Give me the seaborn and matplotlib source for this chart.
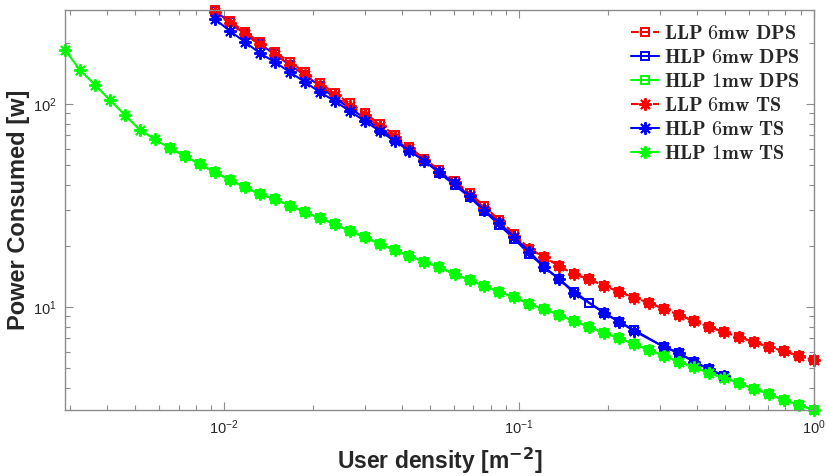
import numpy as np
import pandas as pd
import matplotlib
matplotlib.use("Agg")
import matplotlib.pyplot as plt
import seaborn as sns
from matplotlib.ticker import LogLocator, NullFormatter

# ---------------- data ----------------
density = [0.002884, 0.003243, 0.003648, 0.004093, 0.004603, 0.005176, 0.005821,
           0.006546, 0.007345, 0.008260, 0.009290, 0.01045, 0.01175, 0.01318,
           0.01483, 0.01667, 0.01875, 0.02109, 0.02366, 0.02661, 0.02992, 0.03365,
           0.03784, 0.04246, 0.04775, 0.05370, 0.06039, 0.06792, 0.07621, 0.08570,
           0.09638, 0.1084, 0.1219, 0.1368, 0.1538, 0.1730, 0.1945, 0.2188, 0.2455,
           0.2761, 0.3105, 0.3491, 0.3926, 0.4406, 0.4955, 0.5572, 0.6266, 0.7047,
           0.7907, 0.8892, 1.0]

llp6_dps = [290.4, 256.3, 226.3, 202.1, 180.4, 161.0, 143.8, 126.9, 113.3, 101.1,
            90.3, 79.7, 70.4, 61.4, 53.6, 47.3, 41.8, 36.4, 31.4, 26.8,
            22.9, 19.3, 17.6, 15.9, 14.5, 13.7, 12.7, 11.9, 11.1, 10.5,
            9.77, 9.13, 8.53, 7.97, 7.53, 7.11, 6.72, 6.35, 6.07, 5.74, 5.48]
hlp6_dps = [287.1, 253.4, 221.2, 197.5, 176.3, 155.6, 139.0, 122.7, 107.1, 95.6,
            85.3, 75.3, 67.2, 59.3, 52.4, 45.7, 39.9, 34.8, 29.7, 25.3,
            21.6, 18.2, 15.7, 13.7, 11.9, 10.5, 9.34, 8.44, 7.70, np.nan,
            6.35, 5.93, 5.36, 4.95, 4.57]
hlp1_dps = [60.5, 55.5, 50.5, 46.2, 42.2, 39.0, 36.0, 34.1, 31.6, 29.4, 27.4, 25.6,
            23.7, 22.1, 20.5, 19.1, 17.8, 16.7, 15.7, 14.5, 13.6, 12.7, 11.85, 11.2,
            10.3, 9.77, 9.13, 8.53, 7.97, 7.45, 7.03, 6.57, 6.14, 5.74, 5.36, 5.06,
            4.73, 4.47, 4.22, 3.95, 3.73, 3.48, 3.29, 3.11]
llp6_ts = [282.3, 249.2, 220.0, 196.4, 175.3, 156.5, 139.7, 123.3, 110.2, 98.3,
           87.8, 77.5, 68.4, 60.4, 52.7, 46.5, 41.1, 35.8, 30.9, 26.4,
           22.5, 19.3, 17.6, 15.9, 14.5, 13.7, 12.7, 11.9, 11.1, 10.5,
           9.77, 9.13, 8.53, 7.97, 7.53, 7.11, 6.72, 6.35, 6.07, 5.74, 5.48]
hlp6_ts = [262.2, 228.9, 202.1, 178.4, 161.0, 143.8, 128.3, 114.6, 103.5, 92.4,
           82.5, 73.6, 65.7, 58.7, 52.4, 46.2, 40.8, 35.2, 30.0, 25.9,
           22.1, 18.7, 15.7, 13.7, 11.7, np.nan, 9.34, 8.44, 7.62, np.nan,
           6.35, 5.93, 5.36, 4.95, 4.57]
hlp1_ts = [184.5, 147.0, 124.0, 104.7, 88.3, 74.5, 67.0, 60.5, 55.5, 50.5, 46.2,
           42.2, 39.0, 36.0, 34.1, 31.6, 29.4, 27.4, 25.6, 23.7, 22.1, 20.5, 19.1,
           17.8, 16.7, 15.7, 14.5, 13.6, 12.7, 11.85, 11.2, 10.3, 9.77, 9.13, 8.53,
           7.97, 7.45, 7.03, 6.57, 6.14, 5.74, 5.36, 5.06, 4.73, 4.47, 4.22, 3.95,
           3.73, 3.48, 3.29, 3.11]

labels = ["LLP 6mw DPS", "HLP 6mw DPS", "HLP 1mw DPS",
          "LLP 6mw TS", "HLP 6mw TS", "HLP 1mw TS"]

# series: (x, y, label, colour, linestyle, marker, zorder)
series = [
    (density[10:45], hlp6_dps, labels[1], "#0000ff", "-", "s", 2.0),
    (density[10:], llp6_dps, labels[0], "#ff0000", "--", "s", 2.1),
    (density[7:], hlp1_dps, labels[2], "#00ff00", "-", "s", 2.2),
    (density[10:], llp6_ts, labels[3], "#ff0000", "--", (8, 2, 0), 2.3),
    (density[10:45], hlp6_ts, labels[4], "#0000ff", "-", (8, 2, 0), 2.4),
    (density, hlp1_ts, labels[5], "#00ff00", "-", (8, 2, 0), 2.5),
]

# ---------------- style ----------------
sns.set_style("ticks")
plt.rcParams["font.family"] = ["Liberation Sans", "DejaVu Sans"]
plt.rcParams["axes.edgecolor"] = "#8c8c8c"
plt.rcParams["xtick.color"] = "#8c8c8c"
plt.rcParams["ytick.color"] = "#8c8c8c"
plt.rcParams["xtick.labelcolor"] = "#262626"
plt.rcParams["ytick.labelcolor"] = "#262626"

fig = plt.figure(figsize=(8.27, 4.76), dpi=100)
ax = fig.add_axes([65 / 827, 1 - 410 / 476, (814 - 65) / 827, (410 - 10) / 476])

for x, y, lab, col, ls, mk, z in series:
    df = pd.DataFrame({"x": x, "y": y}).dropna()
    is_sq = mk == "s"
    sns.lineplot(data=df, x="x", y="y", ax=ax, color=col, estimator=None,
                 sort=False, linestyle=ls, linewidth=1.5,
                 marker=mk, markersize=6.3 if is_sq else 9,
                 markerfacecolor="none" if is_sq else col,
                 markeredgecolor=col, markeredgewidth=1.4,
                 zorder=z, label=lab, clip_on=False)

ax.set_xscale("log")
ax.set_yscale("log")
ax.set_xlim(min(density), max(density))
ax.set_ylim(min(hlp1_ts), max(llp6_dps))

ax.xaxis.set_major_locator(LogLocator(base=10, numticks=10))
ax.xaxis.set_minor_locator(LogLocator(base=10, subs=np.arange(2, 10), numticks=20))
ax.yaxis.set_minor_locator(LogLocator(base=10, subs=np.arange(2, 10), numticks=20))
ax.xaxis.set_minor_formatter(NullFormatter())
ax.yaxis.set_minor_formatter(NullFormatter())
ax.tick_params(which="both", direction="in", top=True, right=True, width=0.8)
ax.tick_params(which="major", length=6, labelsize=10.5, pad=6)
ax.tick_params(which="minor", length=3.5)
for s in ax.spines.values():
    s.set_linewidth(1.0)

ax.set_xlabel(r"User density [m$^{\mathbf{-2}}$]", fontsize=16.5, fontweight="bold",
              color="#262626")
ax.xaxis.set_label_coords(0.5, -0.09)
ax.set_ylabel("Power Consumed [w]", fontsize=17, fontweight="bold",
              color="#262626")
ax.yaxis.set_label_coords(-0.047, 0.5)

# legend in original order
hs, ls_ = ax.get_legend_handles_labels()
lut = dict(zip(ls_, hs))
leg_labels = [r"$\mathbf{" + l.replace(" ", r"\ ") + "}$" for l in labels]
leg = ax.legend([lut[l] for l in labels], leg_labels, loc="upper right",
                frameon=False, prop={"size": 14.5, "math_fontfamily": "cm"},
                handlelength=1.4, handletextpad=0.25, labelspacing=0.25,
                borderaxespad=0.4, borderpad=0.3)

fig.savefig("out.png", dpi=100)
